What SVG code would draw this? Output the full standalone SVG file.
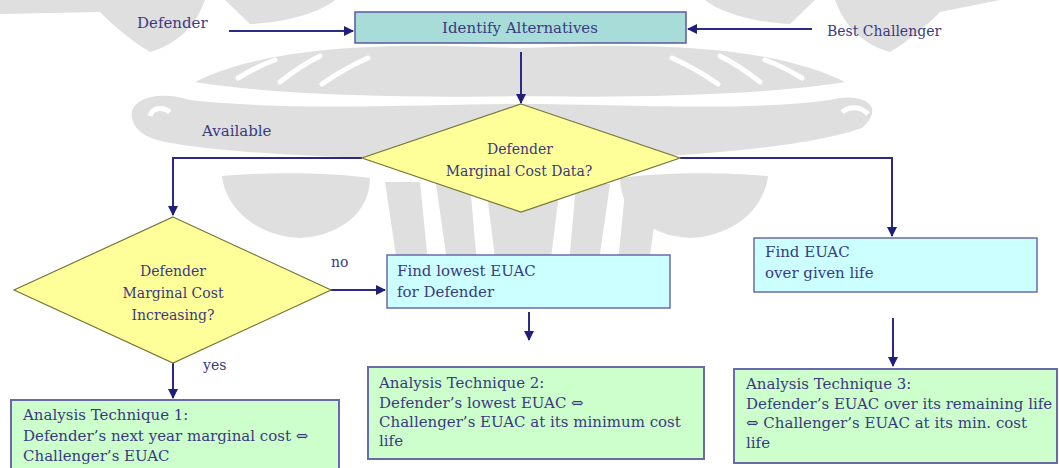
<svg xmlns="http://www.w3.org/2000/svg" width="1059" height="468" viewBox="0 0 1059 468">
  <defs>
    <style>
      text { font-family: "DejaVu Serif", "Liberation Serif", serif; font-size: 15px; fill: #3a3a80; }
      .c { text-anchor: middle; }
      .q { font-size: 14px; }
      .wire { fill: none; stroke: #2b2b85; stroke-width: 2; }
      .dec { fill: #ffff99; stroke: #77773a; stroke-width: 1.2; }
      .proc { fill: #ccffff; stroke: #6a6aaa; stroke-width: 1.5; }
      .res { fill: #ccffcc; stroke: #6a6aaa; stroke-width: 2; }
      .wm { fill: #dadada; }
      .slit { fill: none; stroke: #ffffff; stroke-width: 5; stroke-linecap: round; }
    </style>
    <marker id="arr" viewBox="0 0 10 10" refX="9" refY="5" markerWidth="5" markerHeight="5" orient="auto" markerUnits="strokeWidth">
      <path d="M0,0 L10,5 L0,10 Z" fill="#1f1f7a"/>
    </marker>
  </defs>

  <rect width="1059" height="468" fill="#ffffff"/>

  <!-- faint emblem in the background -->
  <g id="emblem" opacity="0.85">
    <!-- top corner wedges -->
    <path class="wm" d="M0,0 L205,0 C195,28 175,45 150,52 C130,40 112,24 100,12 L0,14 Z"/>
    <path class="wm" d="M1000,0 L835,0 C845,28 865,45 890,52 C910,40 928,24 940,12 Z"/>
    <path class="wm" d="M225,0 L335,0 C320,12 290,22 250,24 Z"/>
    <path class="wm" d="M815,0 L705,0 C720,12 750,22 790,24 Z"/>
    <!-- feathered crown -->
    <path class="wm" d="M195,82 C250,54 340,44 450,46 L520,48 L590,46 C700,44 790,54 845,82 C760,96 620,98 520,96 C420,98 280,96 195,82 Z"/>
    <path class="slit" d="M238,78 Q258,66 275,60 M280,82 Q300,66 320,56 M322,84 Q345,68 368,58 M802,78 Q782,66 765,60 M760,82 Q740,66 720,56 M718,84 Q695,68 672,58"/>
    <!-- main sweep with curled ends -->
    <path class="wm" d="M132,118 C128,98 160,90 190,100 C300,112 420,104 520,104 C620,104 740,112 830,100 C860,92 888,104 862,128 C800,150 650,160 520,160 C390,160 240,156 165,142 C145,138 134,130 132,118 Z"/>
    <path d="M150,116 C152,108 162,106 170,112" fill="none" stroke="#ffffff" stroke-width="5"/>
    <path d="M868,114 C860,106 850,106 842,112" fill="none" stroke="#ffffff" stroke-width="5"/>
    <!-- lower bowls -->
    <path class="wm" d="M222,176 C265,172 330,172 370,178 C370,212 340,236 300,238 C258,236 226,210 222,176 Z"/>
    <path class="wm" d="M620,178 C660,172 725,172 768,176 C764,210 732,236 690,238 C650,236 620,212 620,178 Z"/>
    <!-- central fingers -->
    <path class="wm" d="M385,182 L420,182 L428,262 C420,270 400,268 396,256 Z"/>
    <path class="wm" d="M436,184 L470,184 L478,276 C470,282 452,280 448,268 Z"/>
    <path class="wm" d="M486,186 L560,186 L548,282 C535,288 510,288 498,282 Z"/>
    <path class="wm" d="M576,184 L610,184 L598,268 C594,280 576,282 568,276 Z"/>
    <path class="wm" d="M626,182 L660,182 L650,256 C646,268 626,270 618,262 Z"/>
  </g>

  <!-- connectors -->
  <g id="connectors">
    <path class="wire" d="M229,31 L353,31" marker-end="url(#arr)"/>
    <path class="wire" d="M812,29 L688,29" marker-end="url(#arr)"/>
    <path class="wire" d="M521,52 L521,103" marker-end="url(#arr)"/>
    <path class="wire" d="M362,158 L173,158 L173,215" marker-end="url(#arr)"/>
    <path class="wire" d="M680,158 L892,158 L892,236" marker-end="url(#arr)"/>
    <path class="wire" d="M330,290 L385,290" marker-end="url(#arr)"/>
    <path class="wire" d="M173,363 L173,398" marker-end="url(#arr)"/>
    <path class="wire" d="M529,312 L529,340" marker-end="url(#arr)"/>
    <path class="wire" d="M893,318 L893,366" marker-end="url(#arr)"/>
  </g>

  <!-- free labels -->
  <g id="labels">
    <text x="137" y="28">Defender</text>
    <text x="827" y="36" class="q">Best Challenger</text>
    <text x="202" y="136">Available</text>
    <text x="331" y="267" class="q">no</text>
    <text x="203" y="370" class="q">yes</text>
  </g>

  <g id="identify">
    <rect x="355" y="12" width="331" height="31" fill="#a8dcd8" stroke="#5a5aa0" stroke-width="1.5"/>
    <text class="c" x="520" y="33">Identify Alternatives</text>
  </g>

  <g id="data-check">
    <polygon class="dec" points="521,104 680,158 521,212 362,158"/>
    <text class="c q" x="520" y="154">Defender</text>
    <text class="c q" x="519" y="176">Marginal Cost Data?</text>
  </g>

  <g id="increasing-check">
    <polygon class="dec" points="173,217 331,290 173,363 14,290"/>
    <text class="c q" x="173" y="276">Defender</text>
    <text class="c q" x="173" y="298">Marginal Cost</text>
    <text class="c q" x="173" y="320">Increasing?</text>
  </g>

  <g id="lowest-euac">
    <rect class="proc" x="387" y="255" width="283" height="53"/>
    <text x="397" y="276">Find lowest EUAC</text>
    <text x="397" y="297">for Defender</text>
  </g>

  <g id="given-life">
    <rect class="proc" x="754" y="238" width="283" height="54"/>
    <text x="765" y="257">Find EUAC</text>
    <text x="765" y="278">over given life</text>
  </g>

  <g id="technique-1">
    <rect class="res" x="11" y="400" width="328" height="72"/>
    <text x="23" y="420">Analysis Technique  1:</text>
    <text x="23" y="441">Defender’s next year marginal cost ⇔</text>
    <text x="23" y="461">Challenger’s EUAC</text>
  </g>

  <g id="technique-2">
    <rect class="res" x="368" y="367" width="336" height="92"/>
    <text x="379" y="388">Analysis Technique 2:</text>
    <text x="379" y="408">Defender’s lowest EUAC ⇔</text>
    <text x="379" y="427">Challenger’s EUAC at its minimum  cost</text>
    <text x="379" y="446">life</text>
  </g>

  <g id="technique-3">
    <rect class="res" x="734" y="369" width="323" height="94"/>
    <text x="746" y="389">Analysis Technique 3:</text>
    <text x="746" y="409">Defender’s EUAC over its remaining  life</text>
    <text x="746" y="428">⇔ Challenger’s EUAC at its min.  cost</text>
    <text x="746" y="448">life</text>
  </g>
</svg>
